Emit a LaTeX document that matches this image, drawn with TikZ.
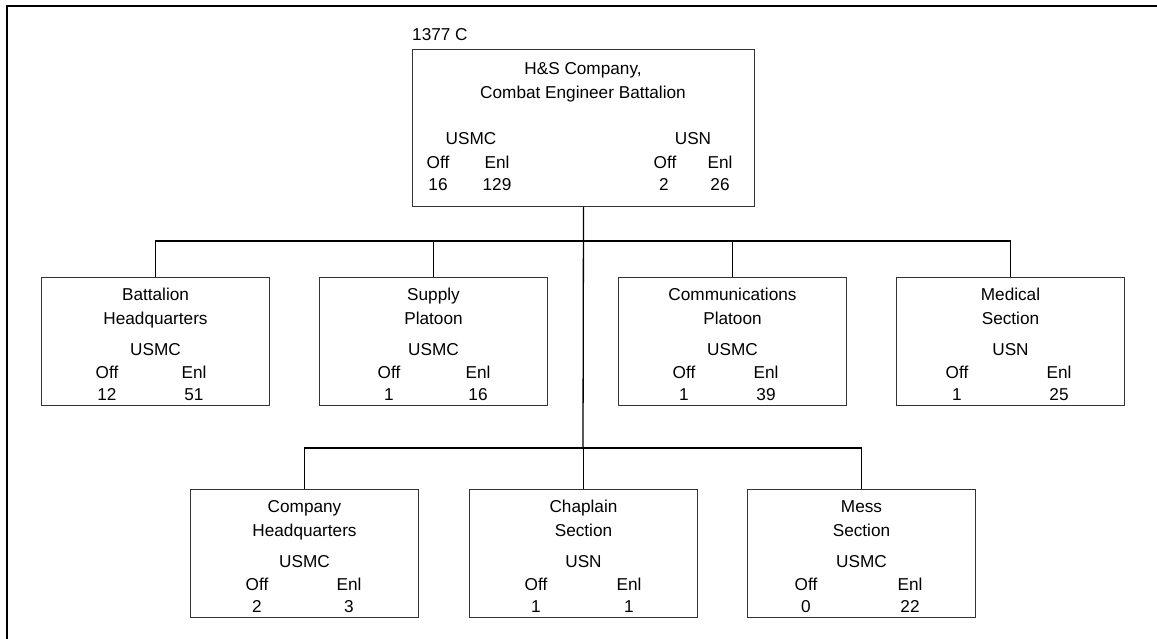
\documentclass[tikz,border=0pt]{standalone}
\usepackage{fontspec}
\setmainfont{Liberation Sans}
\begin{document}
\begin{tikzpicture}[x=1bp,y=-1bp,
  box/.style={draw=black!80, line width=1bp, rectangle, inner sep=0, anchor=north west},
  lbl/.style={inner sep=0, anchor=base, font=\fontsize{17.2bp}{20bp}\selectfont},
  conn/.style={draw=black, line width=1.3bp},
  frame/.style={draw=black, line width=2.6bp},
]
\useasboundingbox (0,0) rectangle (1157,639);
\coordinate (fa) at (7,639);
\coordinate (fb) at (7,6);
\coordinate (fc) at (1157,6);
\draw[frame] (fa) -- (fb) -- (fc);

% top box
\node[box, minimum width=342bp, minimum height=157bp] (top) at (412,49) {};
\node[lbl, anchor=base west] (code) at (412,41) {1377 C};
\node[lbl] (t1) at (583,75) {H\&S Company,};
\node[lbl] (t2) at (583,99) {Combat Engineer Battalion};
\node[lbl] (tmc) at (471,145) {USMC};
\node[lbl] (tmco) at (438,169) {Off};
\node[lbl] (tmce) at (497,169) {Enl};
\node[lbl] (tmcon) at (438,191) {16};
\node[lbl] (tmcen) at (497,191) {129};
\node[lbl] (tn) at (693,145) {USN};
\node[lbl] (tno) at (665,169) {Off};
\node[lbl] (tne) at (720,169) {Enl};
\node[lbl] (tnon) at (664,191) {2};
\node[lbl] (tnen) at (720,191) {26};

% child boxes
\foreach \nm/\L/\T/\a/\b/\s/\xo/\xe/\no/\ne in {
  bhq/41/277/Battalion/Headquarters/USMC/107/194/12/51,
  sup/319/277/Supply/Platoon/USMC/389/478/1/16,
  com/618/277/Communications/Platoon/USMC/684/766/1/39,
  med/896/277/Medical/Section/USN/957/1059/1/25,
  chq/190/489/Company/Headquarters/USMC/257/349/2/3,
  chap/469/489/Chaplain/Section/USN/536/629/1/1,
  mess/747/489/Mess/Section/USMC/806/910/0/22}{
  \node[box, minimum width=228bp, minimum height=128bp] (\nm) at (\L,\T) {};
  \node[lbl] (\nm-a) at ([yshift=-23bp]\nm.north) {\a};
  \node[lbl] (\nm-b) at ([yshift=-47bp]\nm.north) {\b};
  \node[lbl] (\nm-s) at ([yshift=-78bp]\nm.north) {\s};
  \node[lbl] (\nm-oh) at (\xo,{\T+101}) {Off};
  \node[lbl] (\nm-eh) at (\xe,{\T+101}) {Enl};
  \node[lbl] (\nm-on) at (\xo,{\T+123}) {\no};
  \node[lbl] (\nm-en) at (\xe,{\T+123}) {\ne};
}

% connectors
\coordinate (b1) at (583,241);
\coordinate (b2) at (583,448);
\draw[conn] (top.south) -- (b2);
\draw[conn] (bhq.north) -- (bhq.north |- b1) -- (med.north |- b1) -- (med.north);
\draw[conn] (sup.north) -- (sup.north |- b1);
\draw[conn] (com.north) -- (com.north |- b1);
\draw[conn] (chq.north) -- (chq.north |- b2) -- (mess.north |- b2) -- (mess.north);
\draw[conn] (chap.north |- b2) -- (chap.north);
\end{tikzpicture}
\end{document}
